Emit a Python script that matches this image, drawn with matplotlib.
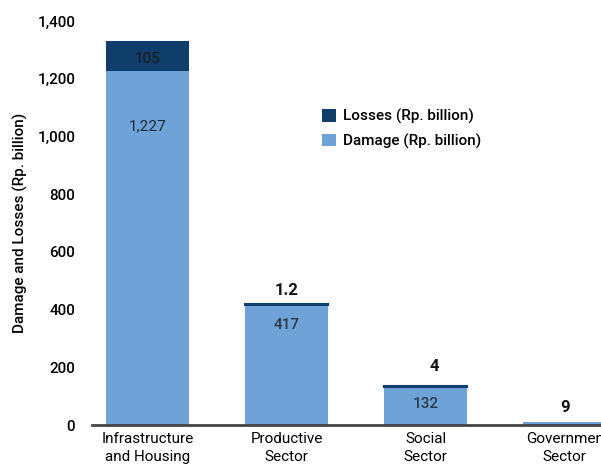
import matplotlib.pyplot as plt
import numpy as np

plt.rcParams['font.family'] = ['Roboto', 'DejaVu Sans']

sectors = ["Infrastructure\nand Housing", "Productive\nSector", "Social\nSector", "Governmen\nSector"]
damage = [1227, 417, 132, 9]
losses = [105, 1.2, 4, 0]
damage_labels = ["1,227", "417", "132", ""]
losses_labels = ["105", "1.2", "4", "9"]

col_damage = "#6fa3d8"
col_losses = "#0e3e69"

fig = plt.figure(figsize=(6.01, 4.65), dpi=100)
ax = fig.add_axes([0.153, 0.086, 0.847, 0.869])

x = np.arange(len(sectors))
ax.bar(x, damage, width=0.6, color=col_damage, label="Damage (Rp. billion)", zorder=2)
ax.bar(x, losses, width=0.6, bottom=damage, color=col_losses, edgecolor=col_losses,
       linewidth=[0, 1.5, 1.5, 0], label="Losses (Rp. billion)", zorder=2)

# labels inside the bars
ax.text(x[0], 1267, losses_labels[0], ha="center", va="center", fontsize=11, color="#1a1a1a")
ax.text(x[0], 1035, damage_labels[0], ha="center", va="center", fontsize=11, color="#1a2a3a")
ax.text(x[1], damage[1] - 70, damage_labels[1], ha="center", va="center", fontsize=11,
        color="#2a3a4a", fontweight="medium")
ax.text(x[2], damage[2] - 60, damage_labels[2], ha="center", va="center", fontsize=11,
        color="#2a3a4a", fontweight="medium")
# labels above the bars
ax.text(x[1], damage[1] + losses[1] + 47, losses_labels[1], ha="center", va="center",
        fontsize=12, fontweight="semibold", color="#111111")
ax.text(x[2] + 0.06, damage[2] + losses[2] + 65, losses_labels[2], ha="center", va="center",
        fontsize=12, fontweight="semibold", color="#111111")
ax.text(x[3], damage[3] + 50, losses_labels[3], ha="center", va="center",
        fontsize=12, fontweight="semibold", color="#111111")

ax.set_xlim(-0.4, 3.26)
ax.set_ylim(0, 1400)
ax.set_yticks(np.arange(0, 1401, 200))
ax.set_yticklabels([f"{v:,}" for v in range(0, 1401, 200)], fontsize=11, fontweight="medium")
ax.set_xticks(x)
ax.set_xticklabels(sectors, fontsize=11, linespacing=1.35)
ax.tick_params(axis="both", length=0, pad=5)
ax.tick_params(axis="y", pad=12)
for s in ("top", "right", "left"):
    ax.spines[s].set_visible(False)
ax.spines["bottom"].set_color("#444444")
ax.spines["bottom"].set_linewidth(2)
ax.set_ylabel("Damage and Losses (Rp. billion)", fontsize=11, fontweight="medium")
ax.yaxis.set_label_coords(-0.125, 0.5)

handles, labels = ax.get_legend_handles_labels()
ax.legend(handles[::-1], labels[::-1], loc="upper left", bbox_to_anchor=(0.513, 0.795),
          bbox_transform=fig.transFigure, frameon=False,
          prop={"size": 11, "weight": "medium"},
          handlelength=0.9, handleheight=0.9, handletextpad=0.5, labelspacing=0.6)

fig.savefig("out.png", dpi=100)
